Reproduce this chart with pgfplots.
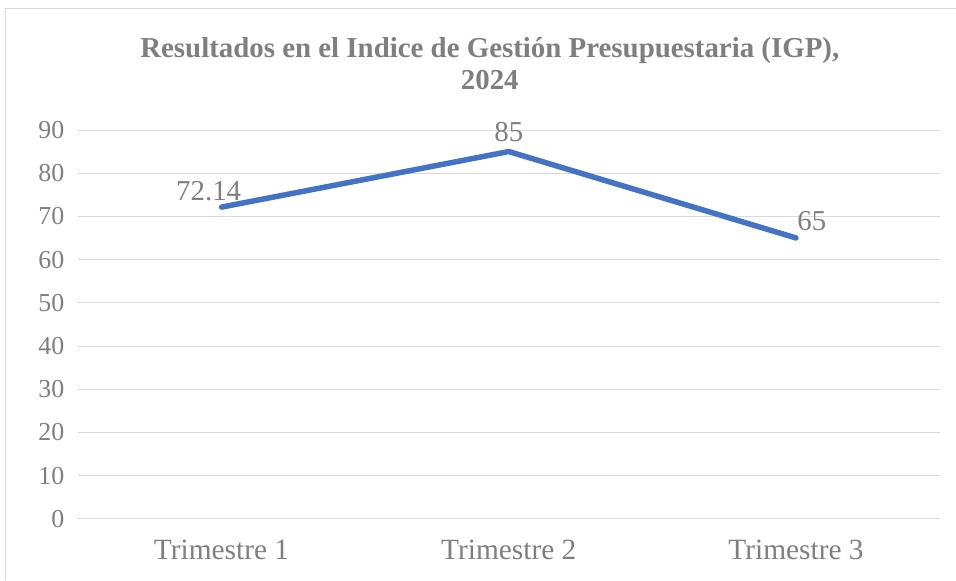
\documentclass[border=0pt]{standalone}
\usepackage{pgfplots}
\pgfplotsset{compat=1.18}
\usepackage{fontspec}
\setmainfont{Liberation Serif}
\definecolor{linecol}{HTML}{4472C4}
\definecolor{gridcol}{HTML}{D9D9D9}
\definecolor{txtcol}{HTML}{7F7F7F}
\definecolor{titlecol}{HTML}{7F7F7F}
\begin{document}
\begin{tikzpicture}[x=1bp,y=1bp]
\fill[white] (0,0) rectangle (956,580);
\draw[gridcol,line width=0.8bp] (5,0) -- (5,572) -- (956,572);
\node[font=\fontsize{29}{32}\selectfont\bfseries, text=titlecol, align=center] at (490,516) {Resultados en el Indice de Gestión Presupuestaria (IGP),\\2024};
\begin{axis}[
  at={(78bp,61bp)}, anchor=south west,
  scale only axis, width=862bp, height=389bp,
  xmin=-0.5, xmax=2.5, ymin=0, ymax=90,
  ytick={0,10,...,90},
  xtick={0,1,2},
  xticklabels={Trimestre 1,Trimestre 2,Trimestre 3},
  extra x ticks={-0.5,0.5,1.5,2.5},
  extra x tick labels={},
  extra x tick style={major tick length=8bp, tick style={gridcol, line width=0.8bp}, grid=none},
  major x tick style={draw=none},
  ymajorgrids, grid style={gridcol, line width=0.8bp},
  axis line style={draw=none},
  axis x line*=bottom,
  x axis line style={gridcol, line width=0.8bp},
  ytick style={draw=none},
  tick align=outside,
  /pgf/number format/assume math mode=true,
  ticklabel style={text=txtcol},
  yticklabel style={font=\fontsize{26}{28}\selectfont, xshift=-6bp},
  xticklabel style={font=\fontsize{29.5}{32}\selectfont, yshift=-14bp},
  clip=false,
]
\addplot[linecol, line width=5.5bp, line cap=round, line join=round] coordinates {(0,72.14) (1,85) (2,65)};
\node[font=\fontsize{29}{32}\selectfont, text=txtcol, anchor=south] at (axis cs:-0.045,72.8) {72.14};
\node[font=\fontsize{29}{32}\selectfont, text=txtcol, anchor=south] at (axis cs:1,86.5) {85};
\node[font=\fontsize{29}{32}\selectfont, text=txtcol, anchor=south] at (axis cs:2.055,65.9) {65};
\end{axis}
\end{tikzpicture}
\end{document}
